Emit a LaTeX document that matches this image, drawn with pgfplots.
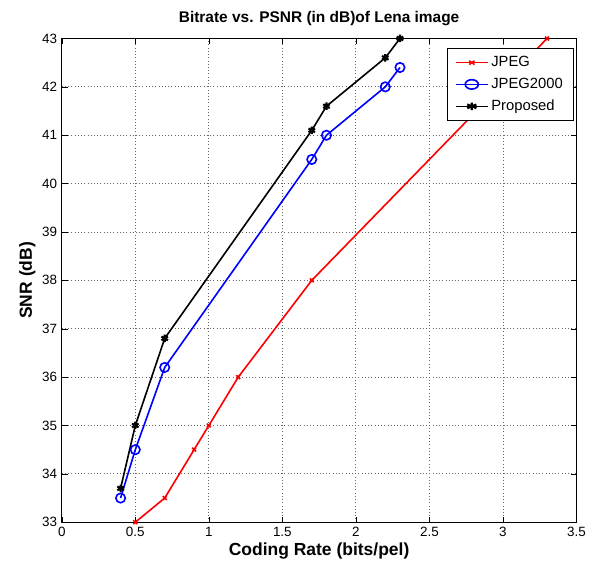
\documentclass[border={11pt 4pt 8pt 5pt}]{standalone}
\usepackage{fontspec}
\setmainfont{Liberation Sans}
\usepackage{pgfplots}
\pgfplotsset{compat=1.18}
\begin{document}
\begin{tikzpicture}
\begin{axis}[
    scale only axis,
    width=383pt,
    height=360pt,
    xmin=0, xmax=3.5,
    ymin=33, ymax=43,
    xtick={0,0.5,...,3.5},
    ytick={33,34,...,43},
    /pgf/number format/assume math mode=true,
    tick label style={font=\fontsize{10}{12}\selectfont},
    xticklabel style={/pgf/number format/fixed},
    title={\bfseries Bitrate vs. PSNR (in dB)of Lena image},
    title style={font=\fontsize{11.5}{13}\selectfont, yshift=0pt},
    xlabel={\bfseries Coding Rate (bits/pel)},
    ylabel={\bfseries SNR (dB)},
    label style={font=\fontsize{13}{15}\selectfont},
    xlabel style={yshift=2pt},
    ylabel style={yshift=-2pt},
    grid=major,
    grid style={dotted, line width=0.6pt, gray!80!black},
    tick align=inside,
    tick style={black},
    axis line style={black, line width=0.8pt},
    legend style={at={(0.995,0.98)}, anchor=north east, font=\fontsize{11}{13}\selectfont, draw=black, row sep=3pt, inner xsep=6pt, inner ysep=4pt},
    legend cell align=left,
    legend image post style={xscale=1.4},
]
\addplot[red, line width=1.2pt, mark=x, mark size=2pt, mark options={solid}] coordinates {
(0.5,33) (0.7,33.5) (0.9,34.5) (1.0,35) (1.2,36) (1.7,38) (3.3,43)};
\addplot[blue, line width=1.2pt, mark=o, mark size=3.5pt] coordinates {
(0.4,33.5) (0.5,34.5) (0.7,36.2) (1.7,40.5) (1.8,41) (2.2,42) (2.3,42.4)};
\addplot[black, line width=1.2pt, mark=asterisk, mark size=2.8pt, mark options={line width=1.6pt}] coordinates {
(0.4,33.7) (0.5,35) (0.7,36.8) (1.7,41.1) (1.8,41.6) (2.2,42.6) (2.3,43)};
\legend{JPEG, JPEG2000, Proposed}
\end{axis}
\end{tikzpicture}
\end{document}
